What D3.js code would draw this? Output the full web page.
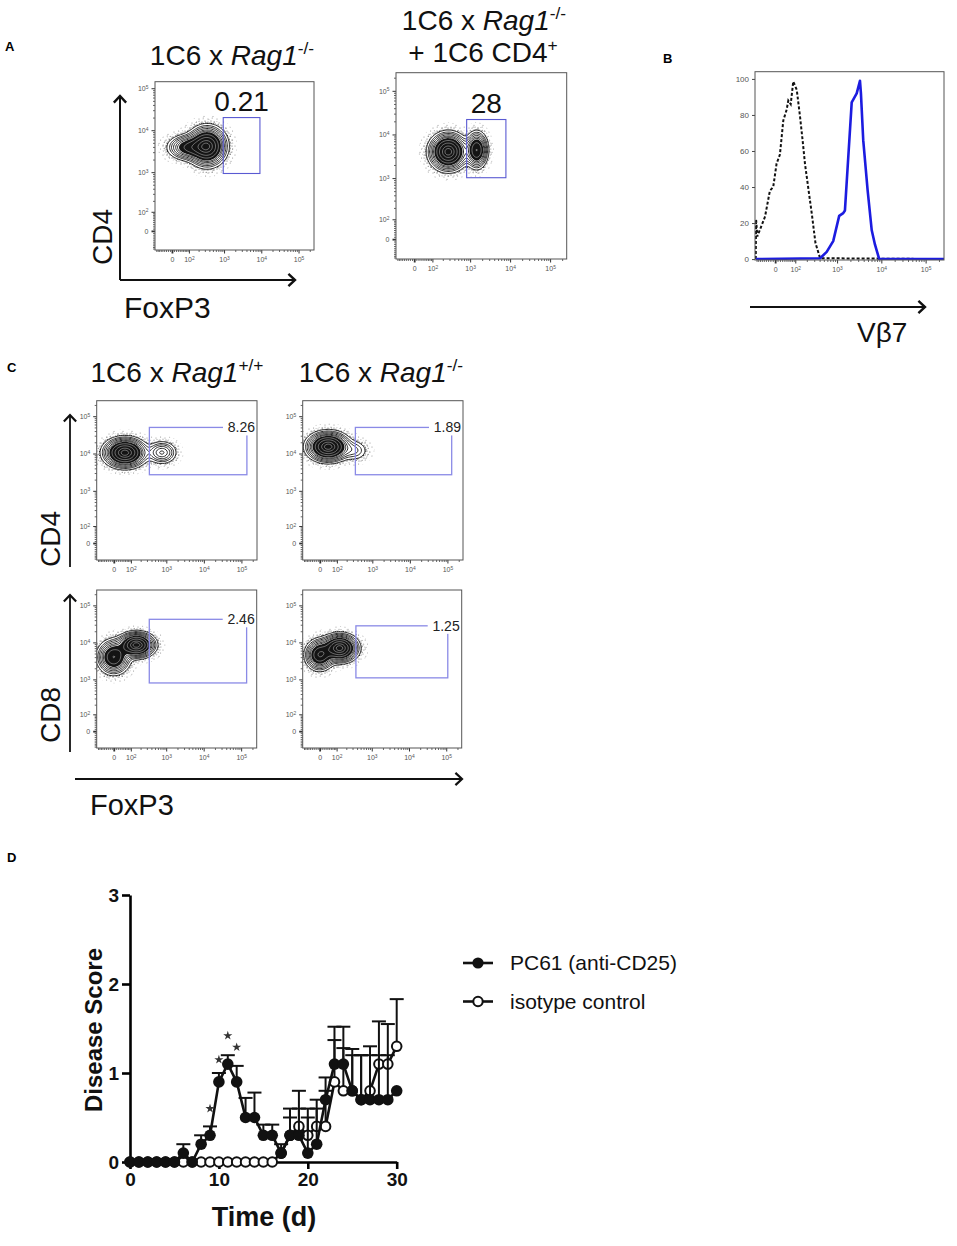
<!DOCTYPE html>
<html>
<head>
<meta charset="utf-8">
<script src="https://cdn.jsdelivr.net/npm/d3@7"></script>
<style>
  body { margin: 0; background: #fff; }
  svg { display: block; }
</style>
</head>
<body>
<svg id="fig" width="957" height="1246"></svg>
<script>
const FONT = "'Liberation Sans', Arial, sans-serif"

// ---------- data ----------
// flow cytometry axes (biexponential display)
const facsTickValues = [0, 1e2, 1e3, 1e4, 1e5]
const facsTickExps = [null, 2, 3, 4, 5]

// populations: centre in fluorescence units, spread in display units
const popsA1 = [{ x: 346, y: 4140, sx: 0.55, sy: 0.5, w: 1 }, { x: 93, y: 3900, sx: 0.6, sy: 0.33, w: 0.45 }]
const popsA2 = [{ x: 279, y: 4020, sx: 0.5, sy: 0.45, w: 1 }, { x: 1464, y: 4400, sx: 0.3, sy: 0.45, w: 0.6 }]
const popsC1 = [{ x: 59, y: 10500, sx: 0.6, sy: 0.42, w: 1 }, { x: 762, y: 10600, sx: 0.45, sy: 0.35, w: 0.25 }]
const popsC2 = [{ x: 43, y: 15200, sx: 0.6, sy: 0.42, w: 1 }, { x: 340, y: 12000, sx: 0.45, sy: 0.35, w: 0.1 }]
const popsC3 = [{ x: 152, y: 8500, sx: 0.52, sy: 0.36, w: 1 }, { x: 0, y: 4020, sx: 0.47, sy: 0.5, w: 0.6 }]
const popsC4 = [{ x: 127, y: 7000, sx: 0.52, sy: 0.4, w: 1 }, { x: 0, y: 4600, sx: 0.42, sy: 0.45, w: 0.6 }]

// gates [xMin, xMax, yMin, yMax] and their % values
const gateA1 = [950, 9200, 930, 20000]
const gateA2 = [818, 7850, 1020, 22000]
const gateC1 = [350, 140000, 2700, 50000]
const gateC2 = [350, 130000, 2700, 50000]
const gateC3 = [350, 140000, 800, 42000]
const gateC4 = [372, 110000, 1100, 28000]
const gateLabels = ["0.21", "28", "8.26", "1.89", "2.46", "1.25"]

// panel B histograms (% of max)
const isoHistX = [-95, -93, -85, -44, -22, -8, 6, 20, 35, 51, 59, 72, 87, 110, 135, 157, 180, 221, 267, 320, 410, 260000]
const isoHistY = [0, 22, 12.6, 23.6, 38, 40, 53, 58, 77, 83, 88, 86, 98.5, 94, 79, 66, 53, 38, 24, 9, 0.5, 0]
const vb7HistX = [-95, 410, 581, 817, 1116, 1378, 1505, 2142, 2777, 3290, 3460, 3900, 4910, 6070, 7190, 8960, 260000]
const vb7HistY = [0, 0.5, 4, 10, 24, 25.5, 27, 87, 92, 99, 92, 66, 38, 16, 8, 0, 0]
const histTicks = [0, 20, 40, 60, 80, 100]

// panel D disease score
const days = [0, 1, 2, 3, 4, 5, 6, 7, 8, 9, 10, 11, 12, 13, 14, 15, 16, 17, 18, 19, 20, 21, 22, 23, 24, 25, 26, 27, 28, 29, 30]
const pc61 = [0, 0, 0, 0, 0, 0, 0.1, 0, 0.2, 0.3, 0.9, 1.1, 0.9, 0.5, 0.5, 0.3, 0.3, 0.1, 0.3, 0.3, 0.1, 0.2, 0.7, 1.1, 1.1, 0.8, 0.7, 0.7, 0.7, 0.7, 0.8]
const pc61Top = [0, 0, 0, 0, 0, 0, 0.2, 0, 0.3, 0.4, 1.0, 1.2, 1.08, 0.72, 0.78, 0.42, 0.42, 0.2, 0.6, 0.6, 0.6, 0.7, 0.95, 1.52, 1.52, 1.27, 1.2, 1.2, 1.2, 1.2, 0.8]
const iso = [0, 0, 0, 0, 0, 0, 0, 0, 0, 0, 0, 0, 0, 0, 0, 0, 0, 0.1, 0.3, 0.4, 0.3, 0.4, 0.4, 0.9, 0.8, 0.8, 0.7, 0.8, 1.1, 1.1, 1.3]
const isoTop = [0, 0, 0, 0, 0, 0, 0, 0, 0, 0, 0, 0, 0, 0, 0, 0, 0, 0.1, 0.5, 0.8, 0.5, 0.6, 0.8, 1.37, 1.28, 1.2, 1.2, 1.3, 1.58, 1.55, 1.83]
const starDays = [9, 10, 11, 12]
const starScores = [0.6, 1.15, 1.42, 1.29]
const dayTicks = [0, 10, 20, 30]
const scoreTicks = [0, 1, 2, 3]
const legendNames = ["PC61 (anti-CD25)", "isotype control"]

// ---------- helpers ----------
const lineLevels = [0.04, 0.07, 0.1, 0.14, 0.19, 0.24]
const coreLevel = 0.28
const whiteLevels = [0.42, 0.6, 0.8, 0.93]
const outlierLevels = [0.003, 0.012, 0.028]
const biex = v => Math.asinh(v / 80)

const svg = d3.select("#fig").attr("font-family", FONT)
svg.append("rect").attr("width", 957).attr("height", 1246).attr("fill", "#fff")
const defs = svg.append("defs")

function stipple(id, size, dots, r, color) {
  const p = defs.append("pattern").attr("id", id)
    .attr("width", size).attr("height", size).attr("patternUnits", "userSpaceOnUse")
  dots.forEach(([cx, cy]) => p.append("circle").attr("cx", cx).attr("cy", cy).attr("r", r).attr("fill", color))
}
stipple("stip0", 9, [[1, 2], [5.2, 1], [3, 6], [7.6, 5], [6, 8.2]], 0.5, "#777")
stipple("stip1", 6, [[1, 1], [4, 2], [2.2, 4.3], [5, 5]], 0.55, "#555")
stipple("stip2", 4, [[1, 1], [3, 1.8], [1.8, 3.2], [3.6, 3.6]], 0.6, "#222")
const stipIds = ["stip0", "stip1", "stip2"]

function powLabel(sel, exp) {
  sel.text(null)
  if (exp === null) { sel.text("0"); return }
  sel.append("tspan").text("10")
  sel.append("tspan").attr("dy", "-0.45em").attr("font-size", "0.7em").text(exp)
}

function minorTicks() {
  const t = []
  for (let k = 1; k <= 4; k++) {
    for (let m = 1; m <= 9; m++) {
      const v = m * Math.pow(10, k)
      if (!facsTickValues.includes(v)) t.push(v)
    }
  }
  for (let m = 1; m <= 9; m++) t.push(-m * 10)
  t.push(2e5)
  return t
}

let clipCount = 0
function facsFrame(cfg) {
  const g = svg.append("g")
  const x = d3.scaleLinear().domain([biex(-100), biex(2.6e5)]).range([cfg.left, cfg.left + cfg.width])
  const y = d3.scaleLinear().domain([cfg.yMin, cfg.yMax]).range([cfg.top + cfg.height, cfg.top])

  // x axis ticks
  const bottom = cfg.top + cfg.height
  g.append("g").attr("transform", `translate(0,${bottom})`)
    .call(d3.axisBottom(x).tickValues(minorTicks().map(biex)).tickSize(2).tickFormat(""))
    .call(a => { a.select(".domain").remove(); a.selectAll("line").attr("stroke", "#666") })
  g.append("g").attr("transform", `translate(0,${bottom})`)
    .call(d3.axisBottom(x).tickValues(facsTickValues.map(biex)).tickSize(3.5).tickPadding(4))
    .call(a => {
      a.select(".domain").remove()
      a.selectAll("line").attr("stroke", "#333").attr("stroke-width", (d, i) => i === 0 ? 1.8 : 1)
      a.attr("font-size", 7).attr("font-family", FONT)
      a.selectAll(".tick text").attr("fill", "#555").each(function (d, i) { powLabel(d3.select(this), facsTickExps[i]) })
    })

  // y axis ticks
  if (cfg.histogram) {
    g.append("g").attr("transform", `translate(${cfg.left},0)`)
      .call(d3.axisLeft(y).tickValues(histTicks).tickSize(3).tickPadding(3))
      .call(a => {
        a.select(".domain").remove()
        a.selectAll("line").attr("stroke", "#444")
        a.attr("font-size", 8).attr("font-family", FONT)
        a.selectAll("text").attr("fill", "#555")
      })
  } else {
    g.append("g").attr("transform", `translate(${cfg.left},0)`)
      .call(d3.axisLeft(y).tickValues(minorTicks().map(biex).filter(v => v < cfg.yMax)).tickSize(2).tickFormat(""))
      .call(a => { a.select(".domain").remove(); a.selectAll("line").attr("stroke", "#666") })
    g.append("g").attr("transform", `translate(${cfg.left},0)`)
      .call(d3.axisLeft(y).tickValues(facsTickValues.map(biex)).tickSize(3.5).tickPadding(3))
      .call(a => {
        a.select(".domain").remove()
        a.selectAll("line").attr("stroke", "#333").attr("stroke-width", (d, i) => i === 0 ? 1.8 : 1)
        a.attr("font-size", 7).attr("font-family", FONT)
        a.selectAll(".tick text").attr("fill", "#555").each(function (d, i) { powLabel(d3.select(this), facsTickExps[i]) })
      })
  }

  const clipId = "clip" + (clipCount++)
  defs.append("clipPath").attr("id", clipId).append("rect")
    .attr("x", cfg.left).attr("y", cfg.top).attr("width", cfg.width).attr("height", cfg.height)
  const plot = g.append("g").attr("clip-path", `url(#${clipId})`)

  g.append("rect").attr("x", cfg.left).attr("y", cfg.top).attr("width", cfg.width).attr("height", cfg.height)
    .attr("fill", "none").attr("stroke", "#555").attr("stroke-width", 1)
  return { g, plot, x, y }
}

function contourPlot(cfg, pops, gate, label, cornerLabel) {
  cfg.yMin = biex(-100)
  cfg.yMax = biex(cfg.yTop)
  const { g, plot, x, y } = facsFrame(cfg)

  const cell = 1.25
  const n = Math.ceil(cfg.width / cell), m = Math.ceil(cfg.height / cell)
  const values = new Float64Array(n * m)
  for (let j = 0; j < m; j++) {
    const by = y.invert(cfg.top + (j + 0.5) * cell)
    for (let i = 0; i < n; i++) {
      const bx = x.invert(cfg.left + (i + 0.5) * cell)
      let s = 0
      pops.forEach(p => {
        const ddx = (bx - biex(p.x)) / p.sx, ddy = (by - biex(p.y)) / p.sy
        s += p.w * Math.exp(-0.5 * (ddx * ddx + ddy * ddy))
      })
      values[j * n + i] = s
    }
  }
  const max = d3.max(values)
  const path = d3.geoPath(d3.geoIdentity().scale(cell).translate([cfg.left, cfg.top]))
  const contours = d3.contours().size([n, m])

  plot.selectAll("path.outlier")
    .data(contours.thresholds(outlierLevels.map(f => f * max))(values))
    .join("path").attr("class", "outlier")
    .attr("d", path)
    .attr("fill", (d, i) => `url(#${stipIds[i]})`)
  plot.selectAll("path.level")
    .data(contours.thresholds(lineLevels.map(f => f * max))(values))
    .join("path").attr("class", "level")
    .attr("d", path)
    .attr("fill", (d, i) => i === 0 ? "#fff" : "none")
    .attr("stroke", "#111").attr("stroke-width", 0.9)
  plot.selectAll("path.core")
    .data(contours.thresholds([coreLevel * max])(values))
    .join("path").attr("class", "core")
    .attr("d", path).attr("fill", "#141414")
  plot.selectAll("path.inner")
    .data(contours.thresholds(whiteLevels.map(f => f * max))(values))
    .join("path").attr("class", "inner")
    .attr("d", path).attr("fill", "none")
    .attr("stroke", "#fff").attr("stroke-opacity", 0.55).attr("stroke-width", 0.7)

  const gx0 = x(biex(gate[0])), gx1 = x(biex(gate[1]))
  const gy0 = y(biex(gate[3])), gy1 = y(biex(gate[2]))
  g.append("rect").attr("x", gx0).attr("y", gy0).attr("width", gx1 - gx0).attr("height", gy1 - gy0)
    .attr("fill", "none")
    .attr("stroke", cornerLabel ? "#8a8ae6" : "#5a5ad2").attr("stroke-width", cornerLabel ? 1.3 : 1.1)

  if (cornerLabel) {
    const right = cfg.left + cfg.width - 2
    g.append("rect").attr("x", right - 32).attr("y", gy0 - 8).attr("width", 32).attr("height", 16).attr("fill", "#fff")
    g.append("text").attr("x", right).attr("y", gy0 + 5).attr("text-anchor", "end")
      .attr("font-size", 14).attr("fill", "#222").text(label)
  } else {
    g.append("text").attr("x", (gx0 + gx1) / 2).attr("y", gy0 - 7).attr("text-anchor", "middle")
      .attr("font-size", 28).attr("fill", "#111").text(label)
  }
}

function arrow(x1, y1, x2, y2, w) {
  const a = Math.atan2(y2 - y1, x2 - x1)
  const L = 9, spread = 0.75
  const p1 = [x2 - L * Math.cos(a - spread), y2 - L * Math.sin(a - spread)]
  const p2 = [x2 - L * Math.cos(a + spread), y2 - L * Math.sin(a + spread)]
  svg.append("path").attr("d", `M${x1},${y1}L${x2},${y2}`).attr("stroke", "#111").attr("stroke-width", w).attr("fill", "none")
  svg.append("path").attr("d", `M${p1[0]},${p1[1]}L${x2},${y2}L${p2[0]},${p2[1]}`)
    .attr("stroke", "#111").attr("stroke-width", w + 0.4).attr("fill", "none").attr("stroke-linejoin", "miter")
}

function title(cx, cy, pre, ital, sup, size) {
  const t = svg.append("text").attr("x", cx).attr("y", cy).attr("text-anchor", "middle")
    .attr("font-size", size).attr("fill", "#111")
  t.append("tspan").text(pre)
  if (ital) t.append("tspan").attr("font-style", "italic").text(ital)
  if (sup) t.append("tspan").attr("dy", -11).attr("font-size", size * 0.62).text(sup)
}

function label(x, y, txt, size, rotate) {
  const t = svg.append("text").attr("font-size", size).attr("fill", "#111").text(txt)
  if (rotate) t.attr("transform", `translate(${x},${y}) rotate(-90)`).attr("text-anchor", "middle")
  else t.attr("x", x).attr("y", y)
  return t
}

function panelLetter(x, y, l) {
  svg.append("text").attr("x", x).attr("y", y).attr("font-size", 13).attr("font-weight", "bold").text(l)
}

// ---------- panel A ----------
panelLetter(5, 51, "A")
title(232, 65, "1C6 x ", "Rag1", "-/-", 28)
title(484, 30, "1C6 x ", "Rag1", "-/-", 28)
title(483, 62, "+ 1C6 CD4", null, "+", 28)
contourPlot({ left: 155, top: 81.7, width: 159, height: 168.3, yTop: 1.43e5 }, popsA1, gateA1, gateLabels[0], false)
contourPlot({ left: 396, top: 72.7, width: 170.7, height: 186.3, yTop: 2.6e5 }, popsA2, gateA2, gateLabels[1], false)
arrow(120, 280, 120, 96, 2)
arrow(120, 280, 295, 280, 2)
label(112, 237, "CD4", 28, true)
label(124, 318, "FoxP3", 30)

// ---------- panel B ----------
panelLetter(663, 63, "B")
{
  const cfg = { left: 755, top: 71.7, width: 189, height: 188.3, yMin: -0.5, yMax: 104, histogram: true }
  const { plot, x, y } = facsFrame(cfg)
  const line = d3.line().x(d => x(biex(d[0]))).y(d => y(d[1]))
  plot.append("path").datum(d3.zip(isoHistX, isoHistY)).attr("d", line)
    .attr("fill", "none").attr("stroke", "#111").attr("stroke-width", 2).attr("stroke-dasharray", "3,2")
  plot.append("path").datum(d3.zip(vb7HistX, vb7HistY)).attr("d", line)
    .attr("fill", "none").attr("stroke", "#1c1ce0").attr("stroke-width", 2.6).attr("stroke-linejoin", "round")
}
arrow(750, 307, 925, 307, 2)
svg.append("text").attr("x", 857).attr("y", 342).attr("font-size", 28).attr("fill", "#111").text("V\u03b27")

// ---------- panel C ----------
panelLetter(7, 372, "C")
title(177, 382, "1C6 x ", "Rag1", "+/+", 28)
title(381, 382, "1C6 x ", "Rag1", "-/-", 28)
contourPlot({ left: 96.7, top: 400.7, width: 160.3, height: 159.3, yTop: 2.6e5 }, popsC1, gateC1, gateLabels[2], true)
contourPlot({ left: 302.7, top: 400.7, width: 160.3, height: 159.3, yTop: 2.6e5 }, popsC2, gateC2, gateLabels[3], true)
contourPlot({ left: 96.7, top: 590, width: 160, height: 158, yTop: 2.6e5 }, popsC3, gateC3, gateLabels[4], true)
contourPlot({ left: 302.7, top: 590, width: 159, height: 158, yTop: 2.6e5 }, popsC4, gateC4, gateLabels[5], true)
arrow(70, 567, 70, 415, 1.8)
arrow(70, 752, 70, 595, 1.8)
arrow(75, 779, 462, 779, 1.8)
label(60, 539, "CD4", 28, true)
label(60, 715, "CD8", 28, true)
label(90, 815, "FoxP3", 29)

// ---------- panel D ----------
panelLetter(7, 862, "D")
{
  const x = d3.scaleLinear().domain([0, 30]).range([130, 396.7])
  const y = d3.scaleLinear().domain([0, 3]).range([1162, 895])
  const gd = svg.append("g")
  const styleAxis = a => {
    a.select(".domain").attr("stroke-width", 2.6)
    a.selectAll(".tick line").attr("stroke-width", 2.6)
    a.selectAll("text").attr("font-size", 19).attr("font-weight", "bold").attr("font-family", FONT).attr("fill", "#111")
  }
  gd.append("g").attr("transform", "translate(0,1162)")
    .call(d3.axisBottom(x).tickValues(dayTicks).tickFormat(d3.format("d")).tickSize(7).tickSizeOuter(0).tickPadding(4))
    .call(styleAxis)
  gd.append("g").attr("transform", "translate(130,0)")
    .call(d3.axisLeft(y).tickValues(scoreTicks).tickFormat(d3.format("d")).tickSize(8).tickSizeOuter(0).tickPadding(3))
    .call(styleAxis)

  const line = d3.line().x((d, i) => x(days[i])).y(d => y(d))

  function series(vals, tops, filled) {
    const s = gd.append("g")
    const withErr = days.filter((d, i) => tops[i] > vals[i])
    s.selectAll("line.err").data(withErr).join("line").attr("class", "err")
      .attr("x1", d => x(d)).attr("x2", d => x(d))
      .attr("y1", d => y(vals[days.indexOf(d)])).attr("y2", d => y(tops[days.indexOf(d)]))
      .attr("stroke", "#111").attr("stroke-width", 2)
    s.selectAll("line.cap").data(withErr).join("line").attr("class", "cap")
      .attr("x1", d => x(d) - 7).attr("x2", d => x(d) + 7)
      .attr("y1", d => y(tops[days.indexOf(d)])).attr("y2", d => y(tops[days.indexOf(d)]))
      .attr("stroke", "#111").attr("stroke-width", 2)
    s.append("path").datum(vals).attr("d", line)
      .attr("fill", "none").attr("stroke", "#111").attr("stroke-width", 2.6).attr("stroke-linejoin", "round")
    s.selectAll("circle").data(vals).join("circle")
      .attr("cx", (d, i) => x(days[i])).attr("cy", d => y(d))
      .attr("r", filled ? 5.8 : 4.8)
      .attr("fill", filled ? "#111" : "#fff")
      .attr("stroke", "#111").attr("stroke-width", filled ? 0 : 2)
  }
  series(iso, isoTop, false)
  series(pc61, pc61Top, true)

  gd.selectAll("path.star").data(starDays).join("path").attr("class", "star")
    .attr("d", d3.symbol(d3.symbolStar, 26))
    .attr("transform", (d, i) => `translate(${x(d)},${y(starScores[i])})`)
    .attr("fill", "#333")

  // legend
  legendNames.forEach((name, i) => {
    const ly = 963 + i * 38.5
    gd.append("line").attr("x1", 463).attr("x2", 493).attr("y1", ly).attr("y2", ly)
      .attr("stroke", "#111").attr("stroke-width", 2.6)
    gd.append("circle").attr("cx", 478).attr("cy", ly).attr("r", i ? 4.7 : 5.6)
      .attr("fill", i ? "#fff" : "#111").attr("stroke", "#111").attr("stroke-width", i ? 2 : 0)
    gd.append("text").attr("x", 510).attr("y", ly + 7).attr("font-size", 21).attr("fill", "#111").text(name)
  })

  svg.append("text").attr("transform", "translate(102,1030) rotate(-90)").attr("text-anchor", "middle")
    .attr("font-size", 24).attr("font-weight", "bold").attr("fill", "#111").text("Disease Score")
  svg.append("text").attr("x", 264).attr("y", 1226).attr("text-anchor", "middle")
    .attr("font-size", 27).attr("font-weight", "bold").attr("fill", "#111").text("Time (d)")
}
</script>
</body>
</html>
